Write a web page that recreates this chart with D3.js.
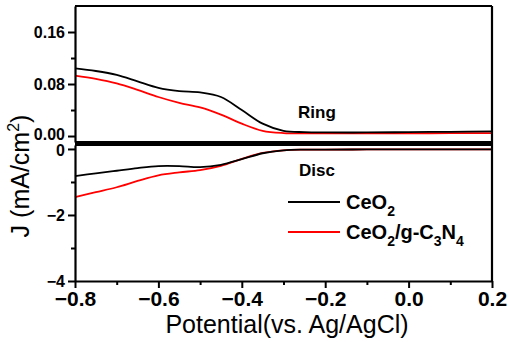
<!DOCTYPE html>
<html><head><meta charset="utf-8">
<script src="https://cdn.jsdelivr.net/npm/d3@7/dist/d3.min.js"></script>
<style>body{margin:0;background:#fff}svg{display:block}text{font-family:"Liberation Sans",Arial,sans-serif}</style>
</head><body>
<script>
const potentials = [-0.80,-0.75,-0.70,-0.65,-0.60,-0.55,-0.50,-0.45,-0.40,-0.35,-0.30,-0.25,-0.20,-0.10,0.00,0.10,0.20];
const ringCeO2   = [0.104,0.100,0.094,0.084,0.074,0.069,0.067,0.060,0.040,0.019,0.008,0.006,0.0055,0.0055,0.006,0.0065,0.007];
const ringCeO2CN = [0.093,0.088,0.081,0.071,0.060,0.051,0.044,0.033,0.019,0.008,0.0045,0.004,0.004,0.004,0.004,0.0045,0.0045];
const discCeO2   = [-0.82,-0.74,-0.66,-0.58,-0.52,-0.52,-0.55,-0.48,-0.31,-0.13,-0.04,-0.02,-0.02,-0.015,-0.01,-0.01,-0.01];
const discCeO2CN = [-1.46,-1.31,-1.16,-0.97,-0.80,-0.71,-0.64,-0.51,-0.30,-0.12,-0.04,-0.02,-0.02,-0.015,-0.01,-0.01,-0.01];
const xTicks = [-0.8,-0.6,-0.4,-0.2,0.0,0.2];
const xMinor = [-0.7,-0.5,-0.3,-0.1,0.1];
const ringTicks = [0,0.08,0.16];
const ringMinor = [0.04,0.12];
const discTicks = [0,-2,-4];
const discMinor = [-1,-3];
const seriesNames = ["CeO2","CeO2/g-C3N4"];
const colors = ["#000000","#ff0000"];

const W=510,H=342;
const svg=d3.select("body").append("svg").attr("width",W).attr("height",H);
const x=d3.scaleLinear().domain([-0.8,0.2]).range([75,492]);
const yT=d3.scaleLinear().domain([-0.0092,0.2]).range([142,6]);
const yB=d3.scaleLinear().domain([-4,0.12]).range([281,145]);

function drawLine(vals,y,col){
  const line=d3.line().x((d,i)=>x(potentials[i])).y(d=>y(d)).curve(d3.curveCatmullRom.alpha(0.5));
  svg.append("path").datum(vals).attr("d",line).attr("fill","none").attr("stroke",col).attr("stroke-width",1.8);
}
drawLine(ringCeO2CN,yT,colors[1]);
drawLine(ringCeO2,yT,colors[0]);
drawLine(discCeO2CN,yB,colors[1]);
drawLine(discCeO2,yB,colors[0]);

// frames
const sw=2.2;
svg.append("line").attr("x1",75).attr("x2",492).attr("y1",6).attr("y2",6).attr("stroke","#000").attr("stroke-width",sw);
svg.append("line").attr("x1",75).attr("x2",492).attr("y1",142.5).attr("y2",142.5).attr("stroke","#000").attr("stroke-width",3);
svg.append("line").attr("x1",75).attr("x2",492).attr("y1",144.8).attr("y2",144.8).attr("stroke","#000").attr("stroke-width",2.4);
svg.append("line").attr("x1",492).attr("x2",492).attr("y1",6).attr("y2",281).attr("stroke","#000").attr("stroke-width",sw);

function yAxis(scale,ticks,minor,fmt,nudge){
  const g=svg.append("g").attr("transform","translate(75,0)");
  g.call(d3.axisLeft(scale).tickValues(ticks).tickSize(7).tickFormat(fmt).tickSizeOuter(0));
  g.select(".domain").attr("stroke-width",sw);
  g.selectAll(".tick line").attr("stroke-width",2);
  g.selectAll(".tick text").attr("font-size",16).attr("font-weight","bold").attr("fill","#000").attr("x",-10)
    .attr("y",d=>d===0?nudge:0).attr("font-family","Liberation Sans, Arial, sans-serif");
  const gm=svg.append("g").attr("transform","translate(75,0)");
  gm.call(d3.axisLeft(scale).tickValues(minor).tickSize(4).tickFormat("").tickSizeOuter(0));
  gm.select(".domain").remove();
  gm.selectAll(".tick line").attr("stroke-width",2);
}
yAxis(yT,ringTicks,ringMinor,d3.format(".2f"),-1.5);
yAxis(yB,discTicks,discMinor,d=>d3.format("d")(d),1);

const gx=svg.append("g").attr("transform","translate(0,281)");
gx.call(d3.axisBottom(x).tickValues(xTicks).tickSize(7).tickFormat(d3.format(".1f")).tickSizeOuter(0));
gx.select(".domain").attr("stroke-width",sw);
gx.selectAll(".tick line").attr("stroke-width",2);
gx.selectAll(".tick text").attr("font-size",21).attr("font-weight","bold").attr("fill","#000").attr("y",10).attr("font-family","Liberation Sans, Arial, sans-serif");
const gxm=svg.append("g").attr("transform","translate(0,281)");
gxm.call(d3.axisBottom(x).tickValues(xMinor).tickSize(4).tickFormat("").tickSizeOuter(0));
gxm.select(".domain").remove();
gxm.selectAll(".tick line").attr("stroke-width",2);

// titles
svg.append("text").attr("x",287).attr("y",333).attr("text-anchor","middle").attr("font-size",25).text("Potential(vs. Ag/AgCl)");
const yl=svg.append("text").attr("transform","translate(29,176) rotate(-90)").attr("text-anchor","middle").attr("font-size",25);
yl.append("tspan").text("J (mA/cm");
yl.append("tspan").attr("font-size",16).attr("dy",-10).text("2");
yl.append("tspan").attr("dy",10).text(")");

svg.append("text").attr("x",298).attr("y",118).attr("font-size",17).attr("font-weight","bold").text("Ring");
svg.append("text").attr("x",299).attr("y",176).attr("font-size",17).attr("font-weight","bold").text("Disc");

// legend
const leg=[{y:202,parts:[["CeO",0],["2",1]]},{y:232,parts:[["CeO",0],["2",1],["/g-C",0],["3",1],["N",0],["4",1]]}];
leg.forEach((l,i)=>{
  svg.append("line").attr("x1",288).attr("x2",340).attr("y1",l.y).attr("y2",l.y).attr("stroke",colors[i]).attr("stroke-width",1.8);
  const t=svg.append("text").attr("x",346).attr("y",l.y+7).attr("font-size",20).attr("font-weight","bold");
  let sub=false;
  l.parts.forEach(p=>{
    const s=t.append("tspan").text(p[0]);
    if(p[1]&&!sub){s.attr("font-size",14).attr("dy",7);sub=true;}
    else if(!p[1]&&sub){s.attr("dy",-7);sub=false;}
  });
});
</script>
</body></html>
